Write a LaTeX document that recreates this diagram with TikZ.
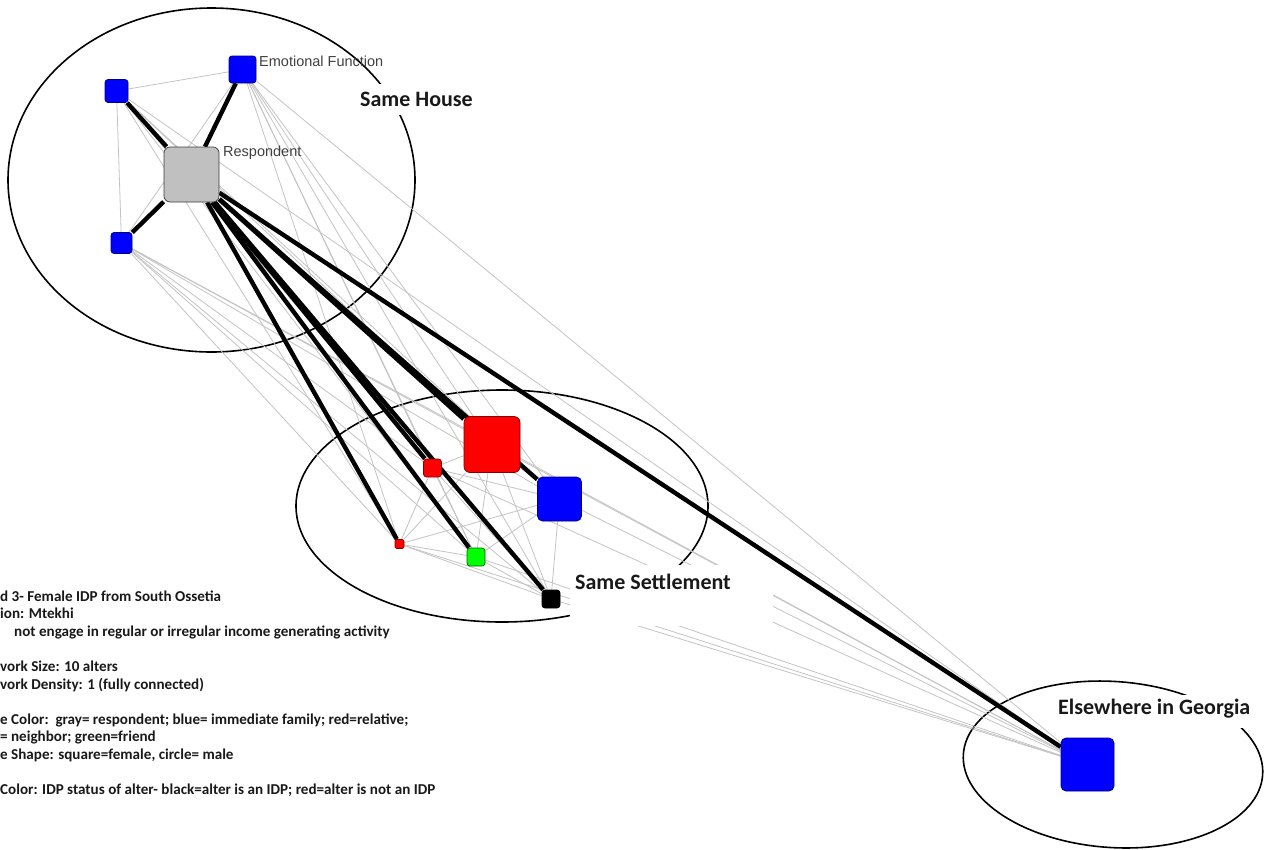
\documentclass[tikz,border=0pt]{standalone}
\usepackage{fontspec}
\setmainfont{Carlito}
\newfontfamily\lblfont{Liberation Sans}
\pgfdeclarelayer{bg}
\pgfdeclarelayer{edges}
\pgfsetlayers{bg,edges,main}
\definecolor{nblue}{RGB}{0,0,255}
\definecolor{nbluedk}{RGB}{0,0,120}
\definecolor{nred}{RGB}{255,0,0}
\definecolor{nreddk}{RGB}{130,0,0}
\definecolor{ngray}{RGB}{192,192,192}
\definecolor{ngraydk}{RGB}{60,60,60}
\definecolor{ngreen}{RGB}{0,255,0}
\definecolor{ngreendk}{RGB}{0,100,0}
\definecolor{edgegray}{RGB}{196,196,196}
\definecolor{lbltext}{RGB}{64,64,64}
\definecolor{legtext}{RGB}{25,25,25}
\tikzset{
  sq/.style={draw, rounded corners=3pt, minimum size=#1, inner sep=0pt, line width=0.7pt},
  weak/.style={draw=edgegray, line width=0.8pt},
  strong/.style={draw=black, line width=4.4pt},
  region/.style={draw=black, line width=1.6pt},
  grouplbl/.style={font=\fontsize{22}{24}\selectfont\bfseries, text=legtext, inner sep=0pt, anchor=base west},
  namelbl/.style={font=\lblfont\fontsize{14.5}{16}\selectfont, text=lbltext, inner sep=0pt, anchor=base west},
  legend/.style={font=\fontsize{15.1}{17}\selectfont\bfseries, text=legtext, inner sep=0pt, anchor=base west}
}
\begin{document}
\begin{tikzpicture}[x=1pt, y=-1pt]
\useasboundingbox (0,0) rectangle (1264,849);

% region ellipses
\begin{pgfonlayer}{bg}
\fill[white] (0,0) rectangle (1264,849);
\draw[region] (211.5,180) ellipse [x radius=203.5, y radius=172];
\draw[region] (502,506) ellipse [x radius=206, y radius=116];
\draw[region] (1113,764.5) [rotate around={-4:(1113,764.5)}] ellipse [x radius=150, y radius=83];
\end{pgfonlayer}

% white label backgrounds
\fill[white] (352,84) rectangle (478,115);
\fill[white] (570,565) rectangle (773,626);
\fill[white] (1052,695) rectangle (1264,728);

% nodes
\node[sq=55pt, fill=ngray, draw=ngraydk, rounded corners=6pt] (R) at (191.5,174.5) {};
\node[sq=27pt, fill=nblue, draw=nbluedk] (E) at (242.5,69.5) {};
\node[sq=23pt, fill=nblue, draw=nbluedk] (TL) at (116.5,91) {};
\node[sq=21pt, fill=nblue, draw=nbluedk] (BL) at (121.5,243) {};
\node[sq=56pt, fill=nred, draw=nreddk, rounded corners=6pt] (BR) at (492,444.5) {};
\node[sq=44pt, fill=nblue, draw=nbluedk, rounded corners=5pt] (BB) at (559.5,499) {};
\node[sq=18pt, fill=nred, draw=nreddk] (SR) at (432.5,468) {};
\node[sq=9pt, fill=nred, draw=nreddk, rounded corners=2pt] (TR) at (399.5,544) {};
\node[sq=18pt, fill=ngreen, draw=ngreendk] (G) at (476,557) {};
\node[sq=18pt, fill=black, draw=black] (K) at (551,599) {};
\node[sq=53pt, fill=nblue, draw=nbluedk, rounded corners=5pt] (EG) at (1087.5,764.5) {};

% edges
\begin{pgfonlayer}{edges}
\foreach \a [count=\i] in {E,TL,BL,BR,BB,SR,TR,G,K,EG}{
  \foreach \b [count=\j] in {E,TL,BL,BR,BB,SR,TR,G,K,EG}{
    \ifnum\j>\i \draw[weak] (\a) -- (\b); \fi
  }
}
\foreach \b in {E,TL,BL,BR,BB,SR,TR,G,K,EG}{
  \draw[strong] (R) -- (\b);
}
\end{pgfonlayer}

% node labels
\node[namelbl] (lblE) at (259,66) {Emotional Function};
\node[namelbl] (lblR) at (223,156) {Respondent};

% group labels
\node[grouplbl] (house) at (360,106) {Same House};
\node[grouplbl] (settle) at (575,589) {Same Settlement};
\node[grouplbl] (georgia) at (1058,714) {Elsewhere in Georgia};

% legend
\node[legend] (l1) at (0,601) {d 3- Female IDP from South Ossetia};
\node[legend] (l2) at (0,618.6) {ion: Mtekhi};
\node[legend] (l3) at (14,636.2) {not engage in regular or irregular income generating activity};
\node[legend] (l4) at (0,671.4) {vork Size: 10 alters};
\node[legend] (l5) at (0,689) {vork Density: 1 (fully connected)};
\node[legend] (l6) at (0,724.2) {e Color:\ \ gray= respondent; blue= immediate family; red=relative;};
\node[legend] (l7) at (0,741.8) {= neighbor; green=friend};
\node[legend] (l8) at (0,759.4) {e Shape: square=female, circle= male};
\node[legend] (l9) at (0,794.6) {Color: IDP status of alter- black=alter is an IDP; red=alter is not an IDP};
\end{tikzpicture}
\end{document}
